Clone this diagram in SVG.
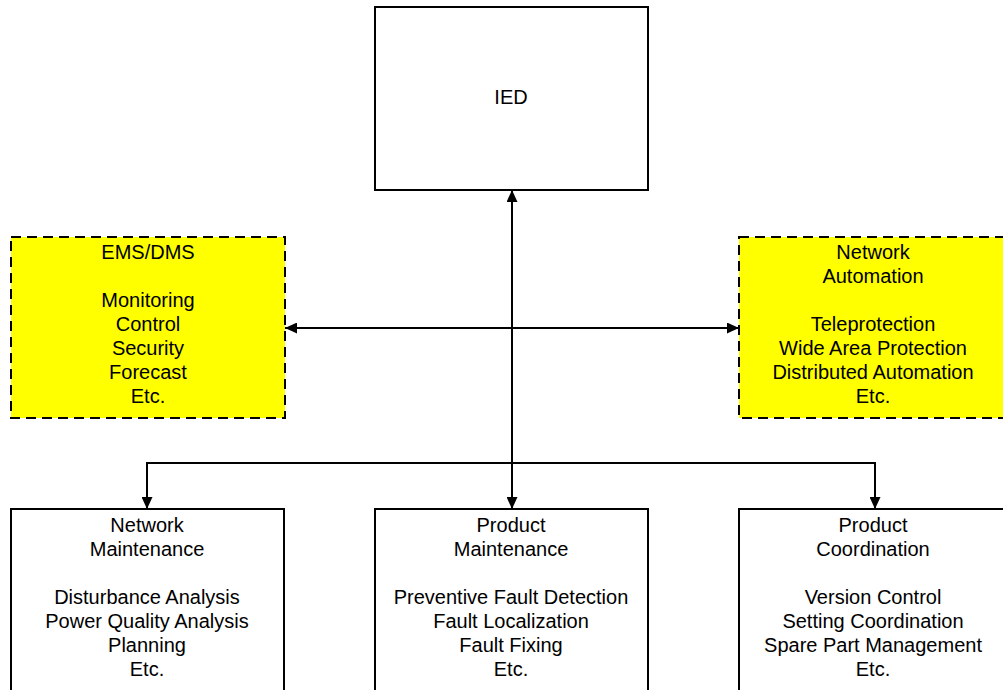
<svg xmlns="http://www.w3.org/2000/svg" width="1003" height="690" viewBox="0 0 1003 690">
  <style>
    .box { fill: #ffffff; stroke: #000000; stroke-width: 2; }
    .sys { fill: #ffff00; stroke: #000000; stroke-width: 2; stroke-dasharray: 10 6; }
    .lbl { font-family: "Liberation Sans", Arial, sans-serif; font-size: 20px; fill: #000000; text-anchor: middle; }
    .wire { fill: none; stroke: #000000; stroke-width: 2; }
  </style>
  <defs>
    <marker id="arrow" viewBox="0 0 12 11" refX="12" refY="5.5" markerWidth="12" markerHeight="11" markerUnits="userSpaceOnUse" orient="auto-start-reverse">
      <path d="M0,0 L12,5.5 L0,11 Z" fill="#000000"/>
    </marker>
  </defs>
  <rect width="1003" height="690" fill="#ffffff"/>

  <g id="connectors">
    <line class="wire" x1="512" y1="190" x2="512" y2="509" marker-start="url(#arrow)" marker-end="url(#arrow)"/>
    <line class="wire" x1="285" y1="328" x2="739" y2="328" marker-start="url(#arrow)" marker-end="url(#arrow)"/>
    <polyline class="wire" points="147,509 147,463 875,463 875,509" marker-start="url(#arrow)" marker-end="url(#arrow)"/>
  </g>

  <g id="ied">
    <rect class="box" x="375" y="7" width="273" height="183"/>
    <text class="lbl" x="511" y="104">IED</text>
  </g>

  <g id="ems-dms">
    <rect class="sys" x="11" y="237" width="274" height="181"/>
    <text class="lbl" x="148" y="259">EMS/DMS</text>
    <text class="lbl" x="148" y="307">Monitoring</text>
    <text class="lbl" x="148" y="331">Control</text>
    <text class="lbl" x="148" y="355">Security</text>
    <text class="lbl" x="148" y="379">Forecast</text>
    <text class="lbl" x="148" y="403">Etc.</text>
  </g>

  <g id="network-automation">
    <rect class="sys" x="739" y="237" width="268" height="181"/>
    <text class="lbl" x="873" y="259">Network</text>
    <text class="lbl" x="873" y="283">Automation</text>
    <text class="lbl" x="873" y="331">Teleprotection</text>
    <text class="lbl" x="873" y="355">Wide Area Protection</text>
    <text class="lbl" x="873" y="379">Distributed Automation</text>
    <text class="lbl" x="873" y="403">Etc.</text>
  </g>

  <g id="network-maintenance">
    <rect class="box" x="11" y="509" width="273" height="186"/>
    <text class="lbl" x="147" y="532">Network</text>
    <text class="lbl" x="147" y="556">Maintenance</text>
    <text class="lbl" x="147" y="604">Disturbance Analysis</text>
    <text class="lbl" x="147" y="628">Power Quality Analysis</text>
    <text class="lbl" x="147" y="652">Planning</text>
    <text class="lbl" x="147" y="676">Etc.</text>
  </g>

  <g id="product-maintenance">
    <rect class="box" x="375" y="509" width="273" height="186"/>
    <text class="lbl" x="511" y="532">Product</text>
    <text class="lbl" x="511" y="556">Maintenance</text>
    <text class="lbl" x="511" y="604">Preventive Fault Detection</text>
    <text class="lbl" x="511" y="628">Fault Localization</text>
    <text class="lbl" x="511" y="652">Fault Fixing</text>
    <text class="lbl" x="511" y="676">Etc.</text>
  </g>

  <g id="product-coordination">
    <rect class="box" x="739" y="509" width="268" height="186"/>
    <text class="lbl" x="873" y="532">Product</text>
    <text class="lbl" x="873" y="556">Coordination</text>
    <text class="lbl" x="873" y="604">Version Control</text>
    <text class="lbl" x="873" y="628">Setting Coordination</text>
    <text class="lbl" x="873" y="652">Spare Part Management</text>
    <text class="lbl" x="873" y="676">Etc.</text>
  </g>
</svg>
